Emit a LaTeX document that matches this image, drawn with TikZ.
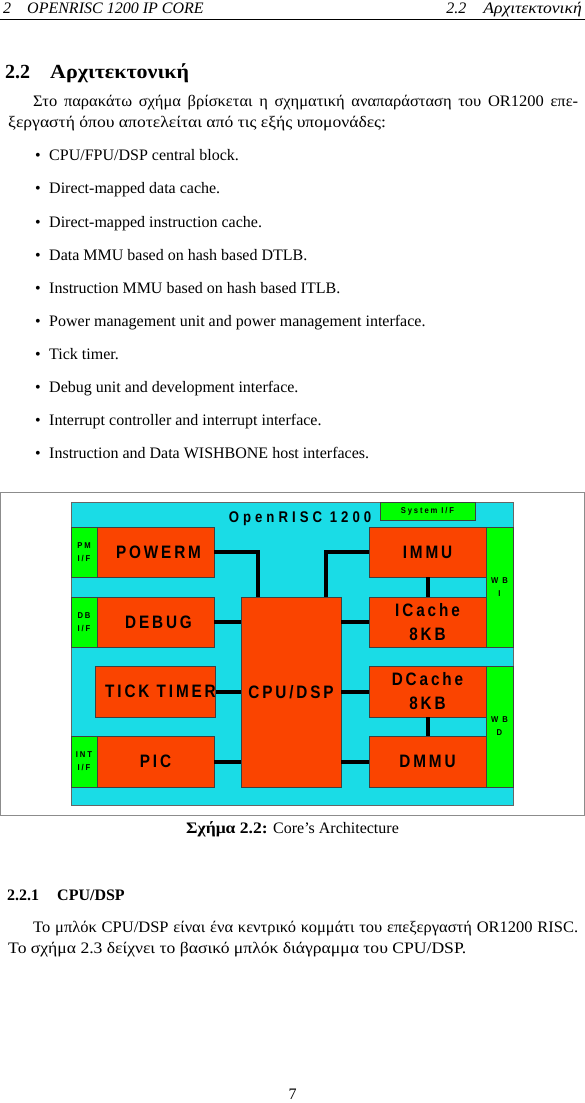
\documentclass[tikz,border=0pt]{standalone}
\usepackage{fontspec}
\setmainfont{Liberation Serif}
\newfontfamily\grk[FakeStretch=1.1]{Liberation Serif}
\newfontfamily\grkline[FakeStretch=1.03]{Liberation Serif}
\newfontfamily\blkfont[FakeStretch=0.85,LetterSpace=16]{Liberation Sans}
\newfontfamily\titlefont[FakeStretch=0.85,LetterSpace=26]{Liberation Sans}
\newfontfamily\tagfont[FakeStretch=0.9,LetterSpace=22]{Liberation Sans}
\definecolor{chipcyan}{RGB}{26,220,230}
\definecolor{unitred}{RGB}{250,68,0}
\definecolor{ifgreen}{RGB}{0,255,0}

\begin{document}
\begin{tikzpicture}[x=1pt,y=-1pt,
    txt/.style={anchor=base west,inner sep=0pt,font=\fontsize{16}{18}\selectfont},
    unit/.style={draw=black!75,fill=unitred,line width=0.6pt,inner sep=0pt,align=center,
      minimum width=117,font=\blkfont\bfseries\fontsize{18}{24}\selectfont},
    iface/.style={draw=black!75,fill=ifgreen,line width=0.6pt,inner sep=0pt,align=center,
      font=\tagfont\bfseries\fontsize{8.5}{13}\selectfont},
    bus/.style={line width=4pt}]
  \useasboundingbox (0,0) rectangle (585,1103);

  \node[txt,font=\itshape\fontsize{16}{18}\selectfont] (headl) at (3,13) {2\hspace{16pt}OPENRISC 1200 IP CORE};
  \node[txt,anchor=base east,font=\itshape\fontsize{16}{18}\selectfont] (headr) at (582,13) {2.2\hspace{17pt}{\grk Αρχιτεκτονική}};
  \draw[line width=0.6pt] (0,19) -- (585,19);

  \node[txt,font=\bfseries\fontsize{20}{24}\selectfont] (sec) at (5,78) {2.2\hspace{20pt}{\grk Αρχιτεκτονική}};
  \node[txt] (par1) at (33,106) {\grkline\makebox[545pt][s]{Στο παρακάτω σχήμα βρίσκεται η σχηματική αναπαράσταση του OR1200 επε-}};
  \node[txt] (par2) at (8,127) {\grk ξεργαστή όπου αποτελείται από τις εξής υπομονάδες:};

  \foreach \t [count=\i from 0] in {CPU/FPU/DSP central block.,
      Direct-mapped data cache.,
      Direct-mapped instruction cache.,
      Data MMU based on hash based DTLB.,
      Instruction MMU based on hash based ITLB.,
      Power management unit and power management interface.,
      Tick timer.,
      Debug unit and development interface.,
      Interrupt controller and interrupt interface.,
      Instruction and Data WISHBONE host interfaces.} {
    \node[txt] (dot\i) at (35,160.8+33.1*\i) {•};
    \node[txt] (item\i) at (49,160.8+33.1*\i) {\t};
  }

  \node[draw=black!45,line width=0.8pt,minimum width=584,minimum height=323,inner sep=0pt] (frame) at (292.5,654) {};
  \node[fill=chipcyan,draw=black!60,line width=0.6pt,minimum width=442,minimum height=303,inner sep=0pt] (chip) at (292,653.5) {};
  \node[iface,minimum width=95,minimum height=18] (sysif) at (427.5,511) {System I/F};
  \node[font=\titlefont\bfseries\fontsize{15.5}{18}\selectfont] (title) at (300,519) {OpenRISC 1200};

  \node[iface,minimum width=26,minimum height=50] (pmif) at (84,552) {PM\\I/F};
  \node[unit,minimum height=50] (powerm) at (155.5,552) {\hspace*{6pt}POWERM};
  \node[iface,minimum width=26,minimum height=50] (dbif) at (84,622) {DB\\I/F};
  \node[unit,minimum height=50] (debug) at (155.5,622) {\hspace*{6pt}DEBUG};
  \node[unit,minimum height=51] (tick) at (155.5,691.5) {\hspace*{10pt}TICK TIMER};
  \node[iface,minimum width=26,minimum height=51] (intif) at (84,761.5) {INT\\I/F};
  \node[unit,minimum height=51] (pic) at (155.5,761.5) {PIC};

  \node[unit,minimum width=100,minimum height=190] (cpu) at (291,692) {CPU/DSP};

  \node[unit,minimum height=50] (immu) at (427.5,552) {IMMU};
  \node[unit,minimum height=50] (icache) at (427.5,622) {ICache\\8KB};
  \node[unit,minimum height=51] (dcache) at (427.5,691.5) {DCache\\8KB};
  \node[unit,minimum height=51] (dmmu) at (427.5,761.5) {DMMU};
  \node[iface,minimum width=27,minimum height=120] (wbi) at (499.5,587) {W B\\I};
  \node[iface,minimum width=27,minimum height=121] (wbd) at (499.5,726.5) {W B\\D};

  \draw[bus] (powerm.east) -| ([xshift=-33]cpu.north);
  \draw[bus] (immu.west) -| ([xshift=35]cpu.north);
  \draw[bus] (debug.east) -- (debug.east -| cpu.west);
  \draw[bus] (tick.east) -- (tick.east -| cpu.west);
  \draw[bus] (pic.east) -- (pic.east -| cpu.west);
  \draw[bus] (icache.west) -- (icache.west -| cpu.east);
  \draw[bus] (dcache.west) -- (dcache.west -| cpu.east);
  \draw[bus] (dmmu.west) -- (dmmu.west -| cpu.east);
  \draw[bus] (immu.south) -- (icache.north);
  \draw[bus] (dcache.south) -- (dmmu.north);

  \node[txt,anchor=base] (cap) at (292.5,833) {\textbf{\grk Σχήμα 2.2:} Core's Architecture};

  \node[txt,font=\bfseries\fontsize{16}{18}\selectfont] (subsec) at (7,900) {2.2.1\hspace{18pt}CPU/DSP};
  \node[txt] (par3) at (33,932) {\grkline\makebox[545pt][s]{Το μπλόκ CPU/DSP είναι ένα κεντρικό κομμάτι του επεξεργαστή OR1200 RISC.}};
  \node[txt] (par4) at (8,953) {\grk Το σχήμα 2.3 δείχνει το βασικό μπλόκ διάγραμμα του CPU/DSP.};

  \node[txt,anchor=base] (pgno) at (292.5,1099) {7};
\end{tikzpicture}
\end{document}
